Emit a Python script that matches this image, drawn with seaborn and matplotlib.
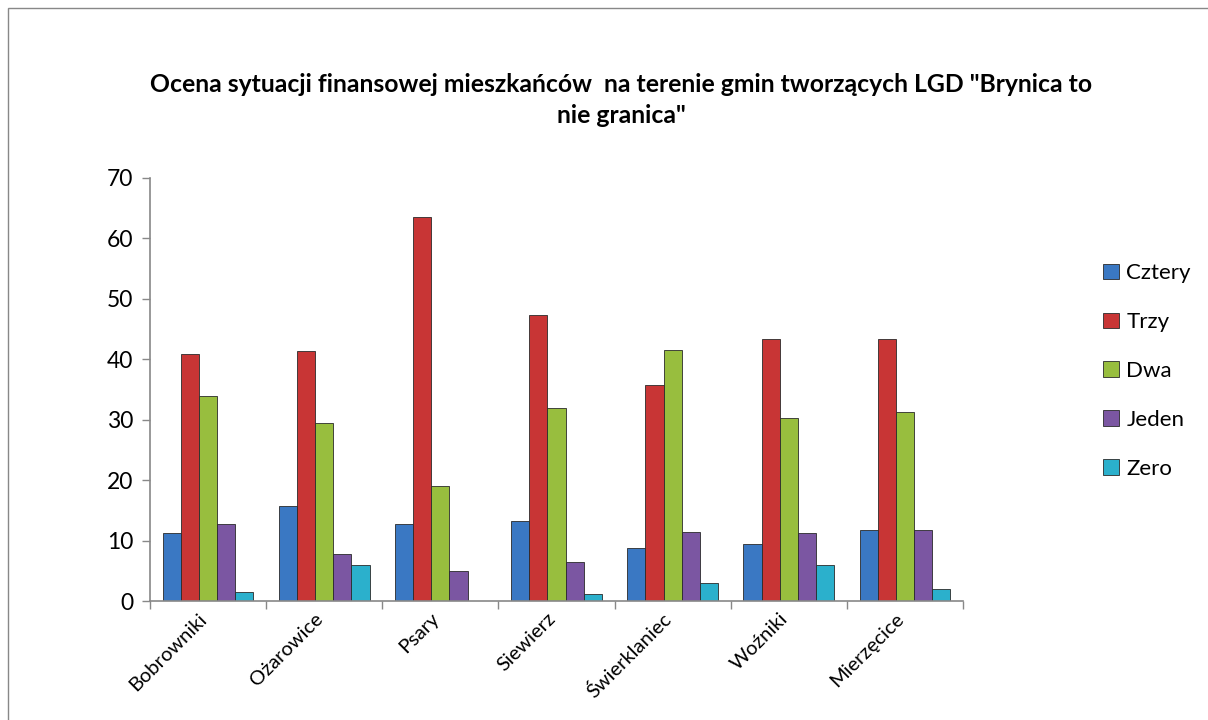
import matplotlib
matplotlib.use("Agg")
import matplotlib.pyplot as plt
import matplotlib.transforms as mtransforms
import seaborn as sns
import pandas as pd
import numpy as np
from matplotlib.patches import Rectangle

categories = ["Bobrowniki", "Ożarowice", "Psary", "Siewierz", "Świerklaniec", "Woźniki", "Mierzęcice"]
series_names = ["Cztery", "Trzy", "Dwa", "Jeden", "Zero"]
cztery = [11.3, 15.8, 12.8, 13.3, 8.7, 9.5, 11.8]
trzy = [40.9, 41.3, 63.6, 47.3, 35.8, 43.4, 43.3]
dwa = [34.0, 29.5, 19.1, 32.0, 41.6, 30.3, 31.3]
jeden = [12.8, 7.8, 4.9, 6.5, 11.5, 11.3, 11.8]
zero = [1.55, 6.0, 0.0, 1.2, 2.9, 5.9, 2.05]
title = 'Ocena sytuacji finansowej mieszkańców  na terenie gmin tworzących LGD "Brynica to\nnie granica"'
yticks = [0, 10, 20, 30, 40, 50, 60, 70]

colors = ["#3A78C3", "#C83535", "#98BE3E", "#7B56A2", "#2BB0CC"]

rows = []
for name, vals in zip(series_names, [cztery, trzy, dwa, jeden, zero]):
    for c, v in zip(categories, vals):
        rows.append({"Gmina": c, "Ocena": name, "Wartość": v})
df = pd.DataFrame(rows)

sns.set_theme(style="white")
plt.rcParams["font.family"] = ["Lato", "DejaVu Sans"]
plt.rcParams["text.color"] = "black"

fig = plt.figure(figsize=(12.08, 7.2), dpi=100)
ax = fig.add_axes([150/1208, 1-601/720, 813/1208, 423/720])

sns.barplot(data=df, x="Gmina", y="Wartość", hue="Ocena", order=categories,
            hue_order=series_names, palette=colors, saturation=1, width=0.78, gap=0,
            edgecolor="#2a2a2a", linewidth=0.6, ax=ax, legend=True)

ax.set_ylim(0, 70)
ax.set_yticks(yticks)
ax.set_yticklabels([str(t) for t in yticks], fontsize=16.5, color="black")
ax.set_xlim(-0.5, len(categories) - 0.5)
ax.set_xticks(range(len(categories)))
ax.set_xticklabels([])
base = mtransforms.blended_transform_factory(ax.transData, ax.transAxes)
offset = mtransforms.ScaledTranslation(-10/100, -9/100, fig.dpi_scale_trans)
for i, c in enumerate(categories):
    ax.text(i, 0, c, transform=base + offset, rotation=45, ha="right", va="top",
            rotation_mode="anchor", fontsize=14.5, color="black")
ax.set_xticks(np.arange(-0.5, len(categories), 1), minor=True)
ax.tick_params(axis="x", which="major", length=0)
ax.tick_params(axis="x", which="minor", length=6, color="#888888", width=1, direction="out", bottom=True)
ax.tick_params(axis="y", length=6, color="#888888", width=1, direction="out", left=True, pad=6)
ax.set_xlabel("")
ax.set_ylabel("")
for s in ["top", "right"]:
    ax.spines[s].set_visible(False)
for s in ["left", "bottom"]:
    ax.spines[s].set_color("#888888")
    ax.spines[s].set_linewidth(1.2)

handles, labels = ax.get_legend_handles_labels()
leg = ax.legend(handles, labels, loc="center left", bbox_to_anchor=(1083/1208, 1-371/720),
                bbox_transform=fig.transFigure, frameon=False, fontsize=16,
                handlelength=0.7, handleheight=0.7, handletextpad=0.35, labelspacing=1.3)
for t in leg.get_texts():
    t.set_color("black")

fig.text(621/1208, 1-100/720, title, ha="center", va="center", fontsize=17.8,
         fontweight="bold", linespacing=1.45, color="black")

fig.patches.append(Rectangle((8/1208, -0.01), 1.0, 1 - 8/720 + 0.01, transform=fig.transFigure,
                             fill=False, edgecolor="#888888", linewidth=1))

fig.savefig("out.png", dpi=100)
